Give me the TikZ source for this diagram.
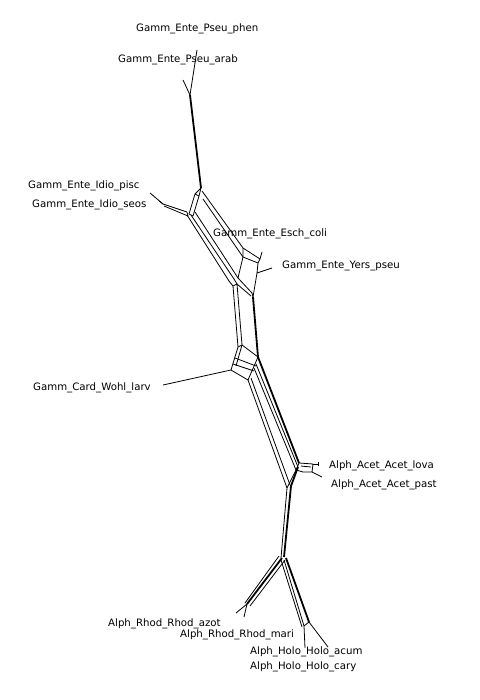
\documentclass[tikz,border=0pt]{standalone}
\usepackage{fontspec}
\setmainfont{DejaVu Sans}
\begin{document}
\begin{tikzpicture}[x=1pt,y=-1pt,
  edge/.style={line width=0.8pt, line join=round},
  heavy/.style={line width=1.8pt, line join=round},
  lbl/.style={anchor=west, inner sep=0pt, font=\fontsize{10.2}{12}\selectfont}]
\useasboundingbox (0,0) rectangle (479,700);
\fill[white] (0,0) rectangle (479,700);

% ---- key coordinates
\coordinate (phen) at (197,50);
\coordinate (arab) at (183,80);
\coordinate (A) at (190,95);
\coordinate (T) at (201,188);
\coordinate (pisc) at (150,193);
\coordinate (seos) at (159,201);
\coordinate (I) at (163,204);
\coordinate (Lj) at (188,214);
\coordinate (E1) at (243,248);
\coordinate (E2) at (243,257);
\coordinate (E3) at (260,259);
\coordinate (E4) at (258,263);
\coordinate (esch) at (262,252);
\coordinate (Y) at (257,273);
\coordinate (yers) at (272,268);
\coordinate (M1) at (253,297);
\coordinate (C1) at (238,347);
\coordinate (C2) at (242,345);
\coordinate (C3) at (258,357);
\coordinate (C4) at (248,380);
\coordinate (C5) at (231,370);
\coordinate (card) at (163,385);
\coordinate (K1) at (299,463);
\coordinate (K2) at (313,464);
\coordinate (K3) at (312,472);
\coordinate (K4) at (303,472);
\coordinate (K5) at (296,470);
\coordinate (lova) at (318,464);
\coordinate (past) at (322,477);
\coordinate (P) at (287,488);
\coordinate (B) at (282,558);
\coordinate (R) at (247,604);
\coordinate (azot) at (236,613);
\coordinate (mari) at (244,617);
\coordinate (H1) at (304,626);
\coordinate (H2) at (309,622);
\coordinate (cary) at (305,648);
\coordinate (acum) at (328,647);

% ---- top
\draw[edge] (phen) -- (A);
\draw[edge] (arab) -- (A);
\draw[heavy] (A) -- (T);

% ---- upper ladder, left side
\draw[edge] (T) -- (195,194) -- (189,214);
\draw[edge] (T) -- (199,196) -- (193,216);
\draw[edge] (189,214) -- (193,216);
\draw[edge] (195,194) -- (199,196);
\draw[edge] (pisc) -- (I);
\draw[edge] (seos) -- (I);
\draw[edge] (I) -- (187,212);
\draw[edge] (164,206) -- (188,216);
\draw[edge] (187,212) -- (188,216);
\draw[edge] (187,215) -- (229,281);
\draw[edge] (191,215) -- (234,279);
\draw[edge] (195,212) -- (238,278);

% ---- upper ladder, right side
\draw[edge] (202,191) -- (E1) -- (E3);
\draw[edge] (203,199) -- (E2) -- (E4);
\draw[edge] (E1) -- (E2) -- (238,278);
\draw[edge] (E3) -- (E4);
\draw[edge] (E3) -- (esch);
\draw[edge] (E4) -- (Y) -- (M1);
\draw[edge] (Y) -- (yers);

% ---- middle section
\draw[edge] (229,281) -- (233,286) -- (C1);
\draw[edge] (234,279) -- (237,284) -- (C2);
\draw[edge] (233,286) -- (237,284);
\draw[edge] (238,278) -- (252,293);
\draw[edge] (237,284) -- (251,296);
\draw[edge] (252,293) -- (M1);
\draw[heavy] (M1) -- (C3);

% ---- Card box
\draw[edge] (C1) -- (C5) -- (C4) -- (C3) -- (C2) -- cycle;
\draw[edge] (235,358) -- (256,366);
\draw[edge] (233,364) -- (254,371);
\draw[edge] (242,345) -- (236,366);
\draw[edge] (C5) -- (card);

% ---- lower-middle band
\draw[edge] (C4) -- (P);
\draw[edge] (251,378) -- (290,485);
\draw[edge] (254,368) -- (K5);
\draw[edge] (256,364) -- (298,467);
\draw[heavy] (C3) -- (K1);

% ---- Acet box
\draw[edge] (K1) -- (K2) -- (K3) -- (K4) -- (K5) -- cycle;
\draw[edge] (301,466) -- (311,467);
\draw[edge] (K2) -- (lova);
\draw[edge] (lova) ++(0,-2) -- ++(0,4);
\draw[edge] (K3) -- (past);

% ---- lower trunk
\draw[edge] (K5) -- (P);
\draw[edge] (P) -- (281,558);
\draw[heavy] (298,467) -- (291,486) -- (284,557);

% ---- bottom
\draw[heavy] (B) -- (R);
\draw[edge] (279,556) -- (245,603);
\draw[edge] (285,560) -- (250,606);
\draw[edge] (R) -- (azot);
\draw[edge] (R) -- (mari);
\draw[edge] (281,560) -- (302,627);
\draw[edge] (284,560) -- (H1);
\draw[heavy] (286,558) -- (H2);
\draw[edge] (H1) -- (H2);
\draw[edge] (H1) -- (cary);
\draw[edge] (H2) -- (acum);

% ---- labels
\node[lbl] (tphen) at (136,29) {Gamm\_Ente\_Pseu\_phen};
\node[lbl] (tarab) at (118,60) {Gamm\_Ente\_Pseu\_arab};
\node[lbl] (tpisc) at (28,186) {Gamm\_Ente\_Idio\_pisc};
\node[lbl] (tseos) at (32,205) {Gamm\_Ente\_Idio\_seos};
\node[lbl] (tesch) at (213,234) {Gamm\_Ente\_Esch\_coli};
\node[lbl] (tyers) at (282,266) {Gamm\_Ente\_Yers\_pseu};
\node[lbl] (tcard) at (33,388) {Gamm\_Card\_Wohl\_larv};
\node[lbl] (tlova) at (329,466) {Alph\_Acet\_Acet\_lova};
\node[lbl] (tpast) at (331,485) {Alph\_Acet\_Acet\_past};
\node[lbl] (tazot) at (108,624) {Alph\_Rhod\_Rhod\_azot};
\node[lbl] (tmari) at (180,635) {Alph\_Rhod\_Rhod\_mari};
\node[lbl] (tacum) at (250,652) {Alph\_Holo\_Holo\_acum};
\node[lbl] (tcary) at (250,667) {Alph\_Holo\_Holo\_cary};
\end{tikzpicture}
\end{document}
